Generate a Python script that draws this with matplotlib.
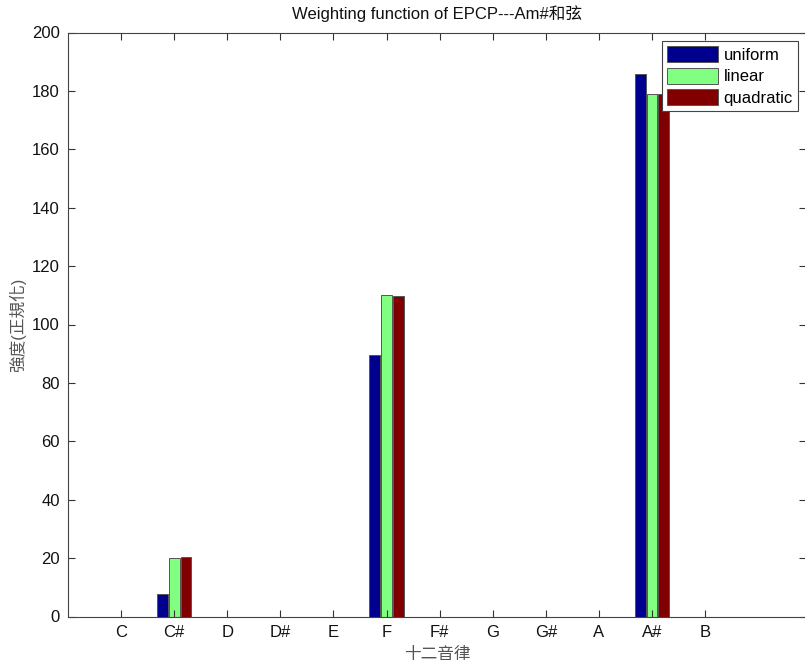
import matplotlib
matplotlib.use("Agg")
import matplotlib.pyplot as plt
import numpy as np

plt.rcParams['font.family'] = ['Liberation Sans', 'Noto Sans CJK TC', 'DejaVu Sans']

notes = ['C', 'C#', 'D', 'D#', 'E', 'F', 'F#', 'G', 'G#', 'A', 'A#', 'B']
series_names = ['uniform', 'linear', 'quadratic']
uniform = [0, 7.6, 0, 0, 0, 89.5, 0, 0, 0, 0, 185.8, 0]
linear = [0, 19.9, 0, 0, 0, 110.2, 0, 0, 0, 0, 178.9, 0]
quadratic = [0, 20.3, 0, 0, 0, 109.6, 0, 0, 0, 0, 178.8, 0]
yticks = list(range(0, 201, 20))

colors = ['#00008F', '#80FF80', '#800000']

fig = plt.figure(figsize=(8.05, 6.66), dpi=100)
ax = fig.add_axes([68 / 805, 49.5 / 666, 738 / 805, 584 / 666])

x = np.arange(1, len(notes) + 1)
width = 0.205
step = 0.222
for i, (vals, name, c) in enumerate(zip([uniform, linear, quadratic], series_names, colors)):
    ax.bar(x + (i - 1) * step, vals, width=width, color=c, edgecolor='#555555',
           linewidth=0.7, label=name)

ax.set_xlim(0, 13.9)
ax.set_ylim(0, 200)
ax.set_xticks(x)
ax.set_xticklabels(notes)
ax.set_yticks(yticks)
ax.tick_params(direction='in', length=5, width=0.8, top=True, right=True,
               labelsize=12, colors='#333333', labelcolor='#111111', pad=6)
for s in ax.spines.values():
    s.set_color('#444444')
    s.set_linewidth(0.8)

ax.set_title('Weighting function of EPCP---Am#和弦', fontsize=12, pad=10,
             color='#111111')
ax.set_xlabel('十二音律', fontsize=12, color='#555555', labelpad=5)
ax.set_ylabel('強度(正規化)', fontsize=12, color='#555555', labelpad=4)

leg = ax.legend(loc='upper right', fontsize=12, handlelength=3.1, handleheight=1.1,
                handletextpad=0.3, labelspacing=0.3, borderpad=0.3,
                borderaxespad=0.5, fancybox=False, framealpha=1)
leg.get_frame().set_edgecolor('#444444')
leg.get_frame().set_linewidth(0.8)

fig.savefig('out.png', dpi=100)
